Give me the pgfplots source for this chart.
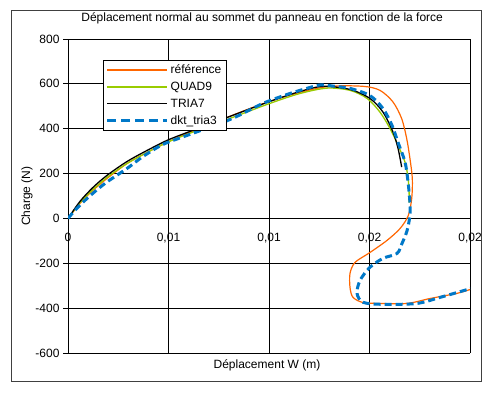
\documentclass[border=0pt]{standalone}
\usepackage{fontspec}
\setmainfont{Liberation Sans}
\usepackage{pgfplots}
\pgfplotsset{compat=1.18}
\usepackage{pgfplotstable}
\definecolor{cref}{RGB}{255,102,0}
\definecolor{cquad}{RGB}{153,204,0}
\definecolor{cdkt}{RGB}{0,120,200}

\pgfplotstableread{
x y
0 0
0.000597 67
0.00124 125
0.00194 178
0.00294 245
0.00393 294
0.00493 339
0.00592 379
0.00692 415
0.00791 450
0.00905 490
0.01005 522
0.01154 562
0.01303 589
0.01468 589
0.01552 571
0.01617 519
0.0166 445
0.01685 356
0.01701 268
0.01713 178
0.0171 89
0.01693 13
0.01652 -45
0.01587 -98
0.01502 -152
0.01428 -196
0.01403 -245
0.01403 -308
0.01418 -352
0.01468 -375
0.01552 -379
0.01687 -379
0.01801 -357
0.01935 -334
0.02 -317
}\tref

\pgfplotstableread{
x y
0 0
0.000597 71
0.00124 129
0.00194 183
0.00294 245
0.00393 294
0.00493 339
0.00592 375
0.00791 441
0.01005 513
0.01154 557
0.01289 581
0.01403 571
0.01488 535
0.01552 474
0.01602 401
0.01642 326
0.01677 250
0.01692 178
0.01697 116
0.01697 71
}\tquad

\pgfplotstableread{
x y
0 0
0.000597 76
0.00124 138
0.00194 192
0.00294 254
0.00393 303
0.00493 348
0.00592 383
0.00791 450
0.01005 522
0.01154 566
0.01269 589
0.01403 575
0.01502 535
0.01567 474
0.01617 385
0.01642 312
0.0166 229
}\ttria

\pgfplotstableread{
x y
0 0
0.00035 36
0.000945 89
0.00184 156
0.00294 223
0.00373 276
0.00473 330
0.00592 370
0.00806 441
0.0097 513
0.01104 557
0.01189 580
0.01254 595
0.01328 589
0.01403 580
0.01502 548
0.01567 490
0.01612 415
0.01642 339
0.01677 250
0.01692 160
0.01701 71
0.01701 13
0.01687 -54
0.01662 -111
0.01637 -156
0.01567 -178
0.01502 -218
0.01453 -276
0.01438 -334
0.01468 -374
0.01567 -383
0.01736 -379
0.01851 -352
0.0199 -316
0.02 -312
}\tdkt

\begin{document}
\begin{tikzpicture}[x=1bp,y=1bp]
\fill[white] (0,0) rectangle (492,392);
\draw[black!75, line width=0.8bp] (11,11) rectangle (481,382);
\begin{axis}[
  at={(68bp,39bp)}, anchor=south west,
  scale only axis, width=402bp, height=314bp,
  xmin=0, xmax=0.02, ymin=-600, ymax=800,
  scaled x ticks=false, scaled y ticks=false,
  axis x line=middle, axis y line=left,
  axis line style={-, black, line width=0.8bp},
  xtick={0,0.005,0.01,0.015,0.02},
  xticklabels={0,{0,01},{0,01},{0,02},{0,02}},
  ytick={-600,-400,-200,0,200,400,600,800},
  yticklabels={-600,-400,-200,0,200,400,600,800},
  hide obscured x ticks=false, hide obscured y ticks=false,
  grid=major, major grid style={black, line width=0.8bp},
  xtick style={draw=none}, ytick style={black, line width=0.8bp},
  tick align=outside, major tick length=5bp,
  tick label style={font=\fontsize{12bp}{14bp}\selectfont},
  xticklabel style={yshift=-6bp},
  title={Déplacement normal au sommet du panneau en fonction de la force},
  title style={at={(0.483,1.048)}, anchor=center, font=\fontsize{12bp}{14bp}\selectfont},
  xlabel={Déplacement W (m)},
  xlabel style={at={(axis description cs:0.495,-0.038)}, anchor=center, font=\fontsize{12bp}{14bp}\selectfont},
  ylabel={Charge (N)},
  ylabel style={at={(axis description cs:-0.102,0.5)}, anchor=center, font=\fontsize{12bp}{14bp}\selectfont},
  legend style={at={(0.087,0.933)}, anchor=north west, fill=white,
    inner sep=2.5bp, font=\fontsize{12bp}{14bp}\selectfont, row sep=3bp},
  legend cell align=left,
]
\addlegendimage{cref, line width=1.6bp, legend image code/.code={\draw[cref, line width=1.6bp] (0bp,0bp) -- (60bp,0bp);}}
\addlegendentry{référence}
\addlegendimage{cquad, line width=1.6bp, legend image code/.code={\draw[cquad, line width=1.6bp] (0bp,0bp) -- (60bp,0bp);}}
\addlegendentry{QUAD9}
\addlegendimage{black, line width=1.4bp, legend image code/.code={\draw[black, line width=1.4bp] (0bp,0bp) -- (60bp,0bp);}}
\addlegendentry{TRIA7}
\addlegendimage{cdkt, line width=3bp, legend image code/.code={\draw[cdkt, line width=3bp, dash pattern=on 9bp off 5bp] (0bp,0bp) -- (60bp,0bp);}}
\addlegendentry{dkt\_tria3}
\addplot[cref, line width=1.2bp, smooth, forget plot] table {\tref};
\addplot[cquad, line width=1.3bp, smooth, forget plot] table {\tquad};
\addplot[black, line width=1.3bp, smooth, forget plot] table {\ttria};
\addplot[cdkt, line width=3bp, dash pattern=on 7bp off 4bp, smooth, forget plot] table {\tdkt};
\end{axis}
\end{tikzpicture}
\end{document}
